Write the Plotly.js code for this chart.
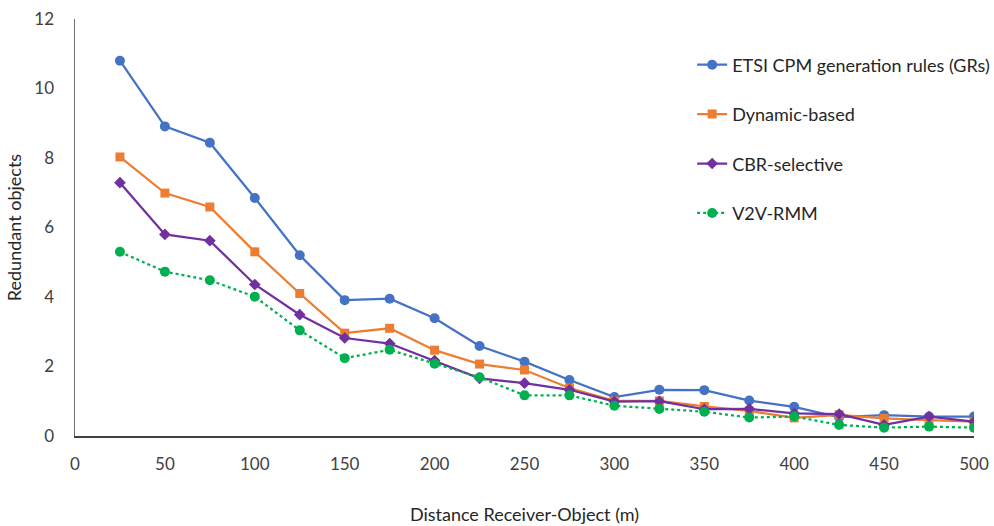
<!DOCTYPE html>
<html>
<head>
<meta charset="utf-8">
<script src="https://cdn.plot.ly/plotly-3.0.1.min.js"></script>
<style>html,body{margin:0;padding:0;background:#fff;}#chart{width:994px;height:526px;}</style>
</head>
<body>
<div id="chart"></div>
<script>
const distance = [25, 50, 75, 100, 125, 150, 175, 200, 225, 250, 275, 300, 325, 350, 375, 400, 425, 450, 475, 500];
const etsiGRs = [10.80, 8.91, 8.44, 6.85, 5.20, 3.91, 3.95, 3.39, 2.59, 2.14, 1.61, 1.12, 1.33, 1.32, 1.02, 0.84, 0.54, 0.60, 0.56, 0.56];
const dynamicBased = [8.03, 6.99, 6.59, 5.30, 4.10, 2.96, 3.10, 2.47, 2.07, 1.90, 1.38, 1.01, 1.01, 0.85, 0.72, 0.52, 0.61, 0.51, 0.46, 0.41];
const cbrSelective = [7.29, 5.80, 5.62, 4.36, 3.49, 2.82, 2.66, 2.17, 1.66, 1.52, 1.33, 0.99, 1.00, 0.77, 0.78, 0.65, 0.63, 0.32, 0.56, 0.41];
const v2vRMM = [5.30, 4.73, 4.48, 4.01, 3.04, 2.24, 2.48, 2.08, 1.69, 1.17, 1.17, 0.87, 0.78, 0.70, 0.53, 0.56, 0.32, 0.24, 0.27, 0.24];
const seriesNames = ["ETSI CPM generation rules (GRs)", "Dynamic-based", "CBR-selective", "V2V-RMM"];
const xTicks = [0, 50, 100, 150, 200, 250, 300, 350, 400, 450, 500];
const yTicks = [0, 2, 4, 6, 8, 10, 12];

const FONT = "Lato, 'Open Sans', sans-serif";

function trace(y, name, color, symbol, size, dash, grp) {
  return {
    x: distance, y: y, name: name, type: "scatter", mode: "lines+markers",
    legendgroup: grp,
    line: {color: color, width: 2.25, dash: dash},
    marker: {color: color, symbol: symbol, size: size, line: {width: 0}}
  };
}

const data = [
  trace(etsiGRs, seriesNames[0], "#4472C4", "circle", 10, "solid", "g1"),
  trace(dynamicBased, seriesNames[1], "#ED7D31", "square", 9, "solid", "g2"),
  trace(cbrSelective, seriesNames[2], "#7030A0", "diamond", 9, "solid", "g3"),
  trace(v2vRMM, seriesNames[3], "#00B050", "circle", 10, "dot", "g4")
];

const layout = {
  width: 994, height: 526,
  margin: {l: 75, r: 20, t: 19, b: 90, autoexpand: false},
  paper_bgcolor: "#fff", plot_bgcolor: "#fff",
  font: {family: FONT, size: 18, color: "#404040"},
  showlegend: true,
  legend: {
    x: 0.6865, y: 0.934, xanchor: "left", yanchor: "top",
    traceorder: "grouped", tracegroupgap: 23,
    font: {family: FONT, size: 18, color: "#262626"},
    bgcolor: "rgba(0,0,0,0)"
  },
  xaxis: {
    range: [0, 500], tickvals: xTicks, ticktext: xTicks.map(String),
    showgrid: false, zeroline: false, showline: true, automargin: false,
    linecolor: "#404040", linewidth: 1.5, ticks: "",
    ticklabelstandoff: 12,
    tickfont: {family: FONT, size: 17, color: "#404040"},
    title: {text: "Distance Receiver-Object (m)", standoff: 35, font: {family: FONT, size: 18, color: "#262626"}}
  },
  yaxis: {
    range: [0, 12], tickvals: yTicks, ticktext: yTicks.map(String),
    showgrid: false, zeroline: false, showline: true, automargin: false,
    linecolor: "#6e6e6e", linewidth: 1.5, ticks: "",
    ticklabelstandoff: 16,
    tickfont: {family: FONT, size: 17, color: "#404040"},
    title: {text: "Redundant objects", standoff: 8, font: {family: FONT, size: 18, color: "#262626"}}
  }
};

Plotly.newPlot("chart", data, layout, {staticPlot: true, displayModeBar: false});
</script>
</body>
</html>
